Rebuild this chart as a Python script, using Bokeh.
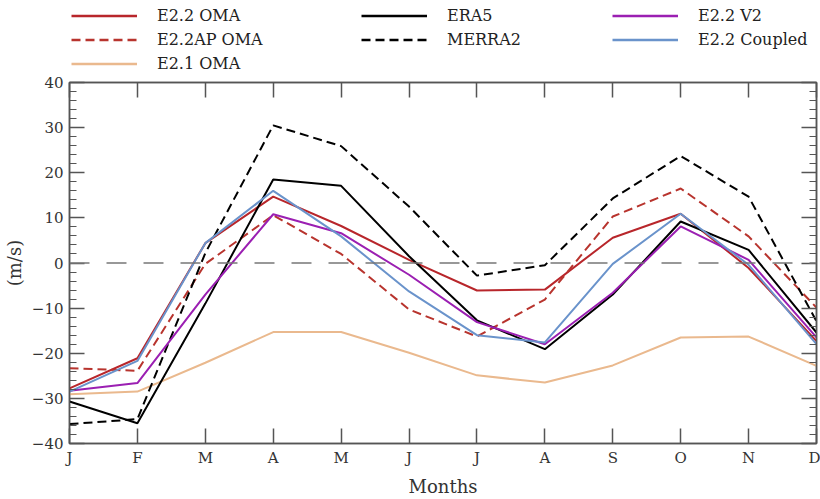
from bokeh.plotting import figure
from bokeh.models import (Range1d, LinearAxis, FixedTicker, Span, Legend, LegendItem,
                          CustomJSTickFormatter)
from bokeh.embed import file_html
from bokeh.resources import INLINE

months = ["J", "F", "M", "A", "M", "J", "J", "A", "S", "O", "N", "D"]
x = list(range(12))

e22_oma =     [-27.8, -21.1, 4.4, 14.7, 8.2, 0.7, -6.1, -5.9, 5.6, 10.9, -1.1, -17.3]
e22ap_oma =   [-23.3, -23.9, -0.2, 10.6, 2.0, -10.3, -16.3, -8.1, 10.3, 16.5, 5.9, -9.9]
e21_oma =     [-29.1, -28.5, -22.1, -15.3, -15.3, -19.9, -24.9, -26.5, -22.7, -16.5, -16.3, -22.8]
era5 =        [-30.7, -35.5, -9.0, 18.5, 17.1, 1.5, -12.7, -19.1, -7.0, 9.2, 2.9, -15.4]
merra2 =      [-35.7, -34.6, 2.2, 30.5, 25.9, 12.5, -2.8, -0.5, 14.3, 23.7, 14.7, -12.9]
e22_v2 =      [-28.3, -26.6, -7.0, 10.8, 6.6, -2.6, -13.1, -18.0, -6.6, 8.1, 0.7, -16.5]
e22_coupled = [-28.5, -21.7, 4.4, 16.0, 5.9, -6.3, -16.0, -17.6, -0.2, 10.9, -0.4, -18.0]

y_major = [-40, -30, -20, -10, 0, 10, 20, 30, 40]
y_minor = list(range(-40, 41, 2))

FONT = "DejaVu Serif"
AXC = "#555555"
TXT = "#333333"
LEG_H = 72
MAIN_H = 499 - LEG_H

p = figure(width=820, height=MAIN_H, output_backend="svg", toolbar_location=None,
           x_range=Range1d(0, 11), y_range=Range1d(-40, 40),
           min_border_left=67, min_border_right=4, min_border_top=10, min_border_bottom=40)
p.xgrid.visible = False
p.ygrid.visible = False
p.outline_line_color = AXC
p.outline_line_width = 1.5
p.background_fill_color = "white"
p.border_fill_color = "white"

def style_axis(ax, labels=True):
    ax.axis_line_color = AXC
    ax.axis_line_width = 1.5
    ax.major_tick_line_color = AXC
    ax.minor_tick_line_color = AXC
    ax.major_tick_line_width = 1.5
    ax.minor_tick_line_width = 1.2
    ax.major_tick_out = 0
    ax.minor_tick_out = 0
    ax.major_tick_in = 15
    ax.minor_tick_in = 7
    ax.major_label_text_font = FONT
    ax.major_label_text_font_size = "15px"
    ax.major_label_text_color = TXT
    ax.axis_label_text_font = FONT
    ax.axis_label_text_font_style = "normal"
    ax.axis_label_text_color = TXT
    ax.axis_label_text_font_size = "18px"
    if not labels:
        ax.formatter = CustomJSTickFormatter(code="return ''")
        ax.major_label_standoff = 0

xa = p.xaxis[0]
xa.ticker = FixedTicker(ticks=x)
xa.major_label_overrides = {i: m for i, m in enumerate(months)}
xa.axis_label = "Months"
style_axis(xa)
xa.major_label_standoff = 5
xa.axis_label_standoff = 6

ya = p.yaxis[0]
ya.ticker = FixedTicker(ticks=y_major, minor_ticks=y_minor)
ya.axis_label = "(m/s)"
style_axis(ya)
ya.major_label_standoff = 6
ya.axis_label_standoff = 4

top = LinearAxis(ticker=FixedTicker(ticks=x))
style_axis(top, labels=False)
p.add_layout(top, "above")
right = LinearAxis(ticker=FixedTicker(ticks=y_major, minor_ticks=y_minor))
style_axis(right, labels=False)
p.add_layout(right, "right")

p.add_layout(Span(location=0, dimension="width", line_color="#777777",
                  line_width=1.5, line_dash="20 17"))

series = [
    ("E2.2 OMA", e22_oma, "#b8262b", "solid"),
    ("E2.2AP OMA", e22ap_oma, "#b8342e", "9 5"),
    ("E2.1 OMA", e21_oma, "#eab98e", "solid"),
    ("ERA5", era5, "#000000", "solid"),
    ("MERRA2", merra2, "#000000", "9 5"),
    ("E2.2 V2", e22_v2, "#9b1fb2", "solid"),
    ("E2.2 Coupled", e22_coupled, "#6a93cb", "solid"),
]

for name, ys, col, dash in series:
    p.line(x, ys, line_color=col, line_width=2, line_dash=dash)

# legend strip above the chart (separate root so it does not align with the frame)
lf = figure(width=820, height=LEG_H, output_backend="svg", toolbar_location=None,
            x_range=Range1d(0, 11), y_range=Range1d(1000, 1001),
            x_axis_type=None, y_axis_type=None,
            min_border_left=0, min_border_right=0, min_border_top=0, min_border_bottom=0)
lf.outline_line_color = None
lf.xgrid.visible = False
lf.ygrid.visible = False

leg_r = {}
for name, ys, col, dash in series:
    leg_r[name] = lf.line(x, ys, line_color=col, line_width=2.5, line_dash=dash)

groups = [
    (["E2.2 OMA", "E2.2AP OMA", "E2.1 OMA"], 71),
    (["ERA5", "MERRA2"], 361),
    (["E2.2 V2", "E2.2 Coupled"], 612),
]
ROW = 19
SP = 5
for names, lx in groups:
    items = [LegendItem(label=n, renderers=[leg_r[n]]) for n in names]
    h = len(names) * ROW + (len(names) - 1) * SP
    ly = LEG_H - 6 - h
    lg = Legend(items=items, location=(lx, ly), orientation="vertical",
                glyph_width=66, glyph_height=ROW, label_height=ROW, spacing=SP,
                padding=0, margin=0, label_standoff=20,
                label_text_font=FONT, label_text_font_size="16px",
                label_text_color="#222222",
                border_line_alpha=0, background_fill_alpha=0)
    lf.add_layout(lg, "center")

open("out.html", "w").write(file_html([lf, p], INLINE))
